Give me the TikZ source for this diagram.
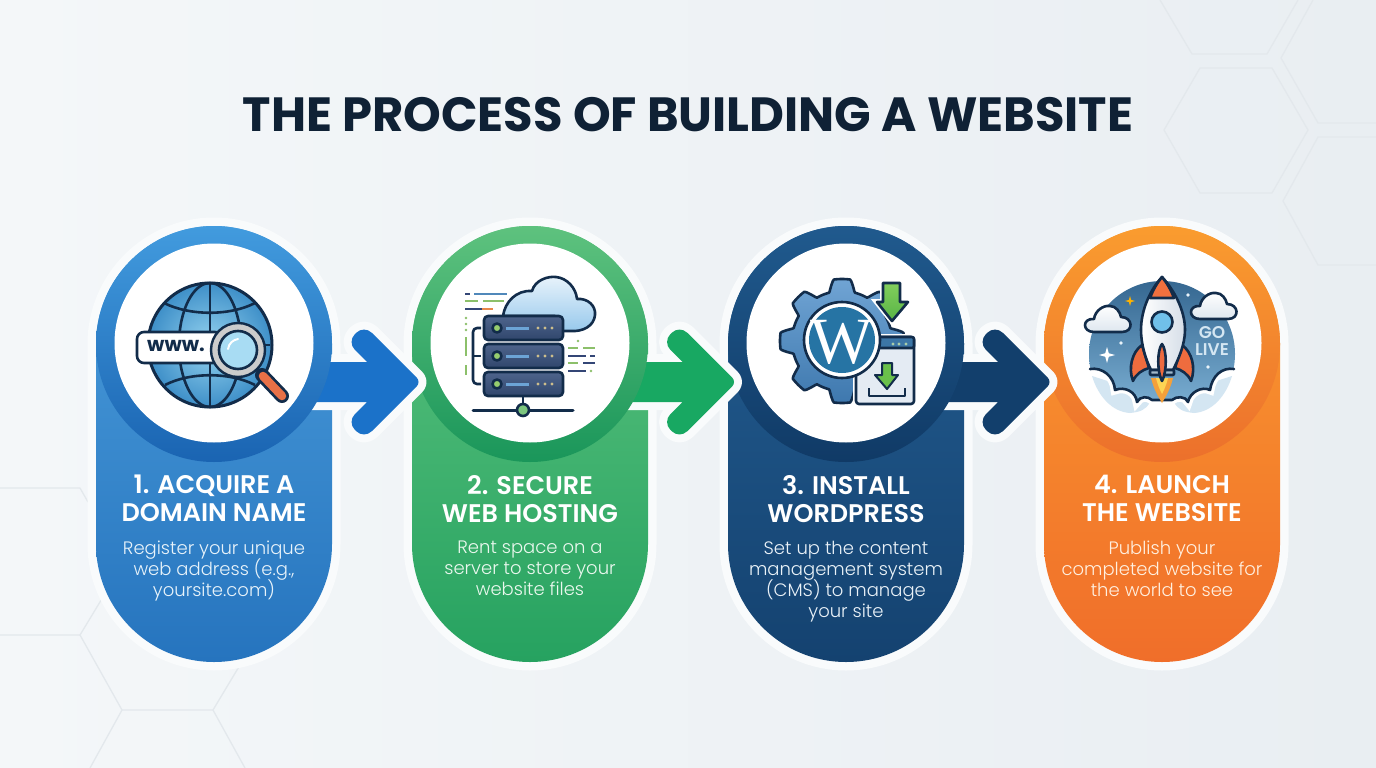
\documentclass[tikz,border=0pt]{standalone}
\usepackage{fontspec}
\setmainfont{Poppins}
\newfontfamily\headfont{Poppins SemiBold}
\newfontfamily\bodyfont{Poppins Light}
\newfontfamily\wpfont{Liberation Serif}
\usetikzlibrary{calc}
\usetikzlibrary{positioning,shapes.geometric}
\setlength{\normallineskiplimit}{-10pt}
\setlength{\lineskiplimit}{-10pt}
\definecolor{haloc}{RGB}{249,251,252}
\definecolor{inkc}{RGB}{18,44,74}
\definecolor{hexc}{RGB}{227,232,236}
\definecolor{titlec}{RGB}{15,33,53}
\definecolor{arrowa}{RGB}{27,114,201}
\definecolor{arrowb}{RGB}{24,168,98}
\definecolor{arrowc}{RGB}{18,63,108}
\definecolor{tinta}{RGB}{232,243,250}
\definecolor{tintb}{RGB}{234,248,238}
\definecolor{tintc}{RGB}{234,242,248}
\definecolor{tintd}{RGB}{255,240,224}
\definecolor{puffc}{RGB}{212,230,242}
\tikzset{
	capbody/.style={rectangle, minimum width=236pt, minimum height=436pt, rounded corners=118pt, inner sep=0pt, preaction={draw=haloc, line width=17pt}},
	ringnode/.style={circle, minimum size=236pt, inner sep=0pt},
	discnode/.style={circle, fill=white, minimum size=199pt, inner sep=0pt},
	headtext/.style={anchor=north, align=center, inner sep=0pt, text=white, font=\headfont\fontsize{25.5}{28}\selectfont},
	bodytext/.style={anchor=north, align=center, inner sep=0pt, font=\bodyfont\fontsize{18}{21}\selectfont},
	icon/.style={draw=inkc, line width=2.6pt, line join=round},
	codeline/.style={line width=2.6pt},
	hexline/.style={draw=hexc, line width=1.3pt},
	sparkle/.style={star, star points=4, star point ratio=3.2, inner sep=0pt}
}
\newcommand{\steparrow}[3]{%
	\path[preaction={draw=haloc, line width=16pt, line join=round}, fill=#3] (#1 |- #2) -- ++(0,-20) -- ($(#2)+(-54,-20)$) [rounded corners=11pt] -- ++(-20,-20) -- ++(17,-17) [rounded corners=6pt] -- (#2) [rounded corners=11pt] -- ++(-57,57) -- ++(-17,-17) [sharp corners] -- ($(#2)+(-54,20)$) -- ($(#1 |- #2)+(0,20)$) -- cycle;
}
\newcommand{\smallcloud}[2]{%
	\begin{scope}[shift={(#1,#2)}]
		\filldraw[icon, top color=white, bottom color={rgb,255:red,222;green,231;blue,239}] (-14,13) .. controls (-26,13) and (-26,-1) .. (-14,0) .. controls (-13,-8) and (-5,-14) .. (2,-13) .. controls (8,-13) and (12,-7) .. (13,-2) .. controls (25,-2) and (26,13) .. (14,13) -- cycle;
	\end{scope}
}
\begin{document}
\begin{tikzpicture}[x=1pt,y=-1pt]
	\useasboundingbox (0,0) rectangle (1376,768);
	\shade[left color={rgb,255:red,244;green,247;blue,249}, middle color={rgb,255:red,246;green,248;blue,250}, right color={rgb,255:red,233;green,238;blue,242}] (0,0) rectangle (1376,768);

	\draw[hexline] (1160,0) -- (1192,54) -- (1267,54) -- (1298,0);
	\draw[hexline] (1164,130) -- (1200,68) -- (1272,68) -- (1308,130) -- (1272,193) -- (1200,193) -- cycle;
	\draw[hexline] (1313,0) -- (1281,58) -- (1318,123) -- (1376,123);
	\draw[hexline] (1376,137) -- (1318,137) -- (1283,201) -- (1318,265) -- (1376,265);
	\draw[hexline] (0,488) -- (80,488) -- (88,502);
	\draw[hexline] (0,635) -- (80,635) -- (122,710) -- (213,710) -- (240,665);
	\draw[hexline] (80,635) -- (103,597);
	\draw[hexline] (122,710) -- (90,768);
	\draw[hexline] (213,710) -- (245,768);

	\node[align=center, inner sep=0pt, text=titlec, font=\bfseries\fontsize{48}{50}\selectfont] at (688,115) (title) {THE PROCESS OF BUILDING A WEBSITE};

	\coordinate (tip1) at (421,382);
	\coordinate (tip2) at (736.5,382);
	\coordinate (tip3) at (1052,382);

	\node[capbody, top color={rgb,255:red,250;green,155;blue,47}, bottom color={rgb,255:red,240;green,110;blue,42}] at (1162,444) (cap4) {};
	\node[ringnode, top color={rgb,255:red,250;green,156;blue,47}, bottom color={rgb,255:red,236;green,112;blue,44}] at (1162,344) (ring4) {};
	\node[discnode] at (1162,343) (disc4) {};

	\node[capbody, top color={rgb,255:red,36;green,94;blue,146}, bottom color={rgb,255:red,20;green,66;blue,112}] at (846,444) (cap3) {};
	\steparrow{cap3}{tip3}{arrowc}
	\node[ringnode, top color={rgb,255:red,32;green,90;blue,142}, bottom color={rgb,255:red,16;green,58;blue,102}] at (846,344) (ring3) {};
	\node[discnode] at (846,343) (disc3) {};

	\node[capbody, top color={rgb,255:red,94;green,196;blue,128}, bottom color={rgb,255:red,38;green,162;blue,96}] at (530,444) (cap2) {};
	\steparrow{cap2}{tip2}{arrowb}
	\node[ringnode, top color={rgb,255:red,94;green,194;blue,126}, bottom color={rgb,255:red,26;green,150;blue,90}] at (530,344) (ring2) {};
	\node[discnode] at (530,343) (disc2) {};

	\node[capbody, top color={rgb,255:red,76;green,158;blue,220}, bottom color={rgb,255:red,38;green,116;blue,190}] at (214,444) (cap1) {};
	\steparrow{cap1}{tip1}{arrowa}
	\node[ringnode, top color={rgb,255:red,66;green,155;blue,222}, bottom color={rgb,255:red,26;green,100;blue,178}] at (214,344) (ring1) {};
	\node[discnode] at (214,343) (disc1) {};

	\node[headtext] at (214,475) (head1) {1. ACQUIRE A\\DOMAIN NAME};
	\node[headtext] at (530,475) (head2) {2. SECURE\\WEB HOSTING};
	\node[headtext] at (846,475) (head3) {3. INSTALL\\WORDPRESS};
	\node[headtext] at (1162,475) (head4) {4. LAUNCH\\THE WEBSITE};

	\node[bodytext, text=tinta] at (214,541) (text1) {Register your unique\\web address (e.g.,\\yoursite.com)};
	\node[bodytext, text=tintb] at (530,541) (text2) {Rent space on a\\server to store your\\website files};
	\node[bodytext, text=tintc] at (846,541) (text3) {Set up the content\\management system\\(CMS) to manage\\your site};
	\node[bodytext, text=tintd] at (1162,541) (text4) {Publish your\\completed website for\\the world to see};

	\shade[inner color={rgb,255:red,150;green,212;blue,240}, outer color={rgb,255:red,62;green,143;blue,200}] (210,345) circle (62);
	\draw[icon, line width=3pt] (210,345) circle (62);
	\draw[icon] (210,345) ellipse (31 and 62);
	\draw[icon] (210,283) -- (210,407);
	\draw[icon] (150,345) -- (270,345);
	\draw[icon] (164,303) .. controls (190,316) and (230,316) .. (255,303);
	\draw[icon] (165,385) .. controls (190,372) and (230,372) .. (255,385);
	\draw[icon, fill=white, rounded corners=7pt] (137,332) rectangle (222,363);
	\node[inner sep=0pt, text=inkc, font=\bfseries\fontsize{20}{20}\selectfont] at (176,346) (www) {www.};
	\draw[line width=14pt, inkc, line cap=round] (262,375) -- (282,396);
	\draw[line width=8.5pt, color={rgb,255:red,232;green,112;blue,70}, line cap=round] (263,376) -- (282,396);
	\draw[icon, fill=black!20!white, line width=2.4pt] (238,350) circle (27);
	\draw[icon, fill={rgb,255:red,168;green,220;blue,243}, line width=2.6pt] (238,350) circle (19);
	\draw[white, line width=2pt, line cap=round] (228,349) .. controls (229,343) and (233,340) .. (238,339);

	\filldraw[icon, top color={rgb,255:red,232;green,243;blue,251}, bottom color={rgb,255:red,150;green,200;blue,236}] (503,316) .. controls (505,302) and (516,290) .. (532,291) .. controls (535,280) and (548,276) .. (556,277) .. controls (567,278) and (576,288) .. (577,299) .. controls (588,298) and (596,306) .. (595,315) .. controls (594,326) and (583,332) .. (570,331) -- (555,331) -- (555,316) -- cycle;
	\foreach \sy in {328,356,384} {
		\filldraw[icon, rounded corners=4pt, top color={rgb,255:red,78;green,100;blue,140}, bottom color={rgb,255:red,48;green,70;blue,108}] (484,\sy-12) rectangle (563,\sy+12);
		\filldraw[icon, fill={rgb,255:red,150;green,205;blue,110}] (497,\sy) circle (4.5);
		\draw[line width=3pt, color={rgb,255:red,108;green,164;blue,214}] (506,\sy) -- (529,\sy);
		\foreach \dx in {538,545,552} \fill[color={rgb,255:red,205;green,190;blue,140}] (\dx,\sy) circle (1.6);
	}
	\draw[icon, rounded corners=4pt] (481,328) -- (473,328) -- (473,384) -- (481,384);
	\draw[icon] (473,356) -- (481,356);
	\draw[icon] (523,396) -- (523,407);
	\draw[icon, line cap=round, line width=3pt] (473,410) -- (573,410);
	\filldraw[icon, fill={rgb,255:red,124;green,198;blue,126}] (523,410) circle (6);
	\begin{scope}[codeline, color={rgb,255:red,140;green,192;blue,106}]
		\draw (465,301) -- (478,301);
		\draw (483,301) -- (504,301);
		\draw (466,337) -- (466,356);
		\draw (466,365) -- (466,375);
		\draw (568,348) -- (578,348);
		\draw (583,348) -- (595,348);
		\draw (568,363) -- (578,363);
		\foreach \dy in {318,324,330} \fill (466,\dy) circle (1.4);
		\fill (578,341) circle (1.4);
		\fill (591,371) circle (1.4);
	\end{scope}
	\begin{scope}[codeline, color={rgb,255:red,52;green,70;blue,118}]
		\draw (465,294) -- (470,294);
		\draw (465,309) -- (482,309);
		\draw (568,356) -- (586,356);
		\draw (590,356) -- (595,356);
		\draw (583,363) -- (595,363);
		\draw (568,371) -- (586,371);
	\end{scope}
	\draw[codeline, color={rgb,255:red,80;green,136;blue,186}] (474,294) -- (507,294);
	\draw[codeline, color={rgb,255:red,232;green,136;blue,74}] (482,309) -- (493,309);

	\filldraw[icon, top color={rgb,255:red,112;green,164;blue,212}, bottom color={rgb,255:red,62;green,120;blue,174}] plot[samples=289, domain=0:360] ({842+(56+6*max(-1,min(1,2.2*cos(8*\x))))*cos(\x)},{341+(56+6*max(-1,min(1,2.2*cos(8*\x))))*sin(\x)}) -- cycle;
	\filldraw[icon, top color={rgb,255:red,130;green,206;blue,92}, bottom color={rgb,255:red,88;green,180;blue,70}, preaction={draw=white, line width=6pt}] (883,283) -- (900,283) -- (900,302) -- (908,302) -- (892,321) -- (877,302) -- (883,302) -- cycle;
	\filldraw[icon, rounded corners=3pt, fill={rgb,255:red,228;green,235;blue,243}, preaction={draw=white, line width=6pt}] (856,337) rectangle (914,404);
	\filldraw[icon, rounded corners=2pt, fill={rgb,255:red,60;green,118;blue,166}] (856,337) rectangle (914,348);
	\foreach \wx in {893,899,906} \fill[color={rgb,255:red,170;green,205;blue,170}] (\wx,344) circle (1.6);
	\filldraw[icon, line width=2pt, fill={rgb,255:red,106;green,192;blue,74}] (882,363) -- (892,363) -- (892,375) -- (898,375) -- (887,389) -- (875,375) -- (882,375) -- cycle;
	\draw[icon] (869,388) -- (869,396) -- (905,396) -- (905,388);
	\filldraw[icon, fill=white] (842,340) circle (38);
	\fill[color={rgb,255:red,38;green,116;blue,164}] (842,340) circle (33);
	\node[inner sep=0pt, text=white, font=\wpfont\fontsize{66}{66}\selectfont] at (842,342) (wplogo) {W};

	\fill[color=puffc] (1092,376) .. controls (1098,396) and (1112,412) .. (1130,413) .. controls (1140,412) and (1146,410) .. (1150,402) -- (1120,385) -- cycle;
	\fill[color=puffc] (1232,376) .. controls (1226,396) and (1212,412) .. (1194,413) .. controls (1184,412) and (1178,410) .. (1174,402) -- (1204,385) -- cycle;
	\def\cloudedge{(1090,369) .. controls (1102,367) and (1114,376) .. (1115,390) .. controls (1125,386) and (1136,392) .. (1137,402) .. controls (1140,396) and (1148,396) .. (1152,400) -- (1172,400) .. controls (1176,396) and (1186,396) .. (1188,402) .. controls (1190,392) and (1202,386) .. (1210,390) .. controls (1212,376) and (1222,367) .. (1234,369)}
	\draw[white, line width=9pt] \cloudedge;
	\begin{scope}
		\clip (1162,354) circle (73);
		\path[top color={rgb,255:red,50;green,100;blue,142}, bottom color={rgb,255:red,120;green,172;blue,208}] (1080,275) -- (1245,275) -- (1245,369) -- (1234,369) .. controls (1222,367) and (1212,376) .. (1210,390) .. controls (1202,386) and (1190,392) .. (1188,402) .. controls (1186,396) and (1176,396) .. (1172,400) -- (1152,400) .. controls (1148,396) and (1140,396) .. (1137,402) .. controls (1136,392) and (1125,386) .. (1115,390) .. controls (1114,376) and (1102,367) .. (1090,369) -- (1080,369) -- cycle;
	\end{scope}
	\draw[icon, line cap=round] \cloudedge;
	\node[inner sep=0pt, align=center, text=puffc, font=\headfont\fontsize{17}{17}\selectfont] at (1212,341) (golive) {GO\\LIVE};
	\node[sparkle, fill=white, minimum size=16pt] at (1107,355) (star1) {};
	\node[sparkle, fill=orange!60!yellow, minimum size=10pt] at (1130,301) (star2) {};
	\fill[tinta] (1121,343) circle (1.8);
	\fill[tinta] (1188,295) circle (1.8);
	\fill[tinta] (1208,367) circle (1.8);
	\smallcloud{1108}{319}
	\smallcloud{1214}{306}
	\fill[color={rgb,255:red,244;green,160;blue,58}] (1151,378) .. controls (1154,390) and (1158,396) .. (1162,403) .. controls (1166,396) and (1170,390) .. (1173,378) -- cycle;
	\fill[color={rgb,255:red,253;green,212;blue,84}] (1156,378) .. controls (1158,386) and (1160,390) .. (1162,394) .. controls (1164,390) and (1166,386) .. (1168,378) -- cycle;
	\filldraw[icon, fill={rgb,255:red,238;green,108;blue,62}] (1142,345) .. controls (1132,352) and (1128,368) .. (1133,381) .. controls (1136,374) and (1142,370) .. (1149,368) -- cycle;
	\filldraw[icon, fill={rgb,255:red,238;green,108;blue,62}] (1182,345) .. controls (1192,352) and (1196,368) .. (1191,381) .. controls (1188,374) and (1182,370) .. (1175,368) -- cycle;
	\filldraw[icon, left color=white, right color={rgb,255:red,214;green,222;blue,232}] (1162,277) .. controls (1150,290) and (1141,310) .. (1141,330) .. controls (1141,345) and (1146,360) .. (1151,370) -- (1173,370) .. controls (1178,360) and (1185,345) .. (1185,330) .. controls (1185,310) and (1174,290) .. (1162,277) -- cycle;
	\filldraw[icon, fill={rgb,255:red,240;green,112;blue,62}] (1162,277) .. controls (1157,283) and (1153,290) .. (1150,298) -- (1174,298) .. controls (1171,290) and (1167,283) .. (1162,277) -- cycle;
	\filldraw[icon, fill={rgb,255:red,112;green,192;blue,234}] (1162,322) circle (10.5);
	\filldraw[icon, rounded corners=1pt, fill={rgb,255:red,160;green,184;blue,202}] (1150,370) rectangle (1174,375);
	\filldraw[icon, fill={rgb,255:red,236;green,106;blue,62}] (1162,344) .. controls (1157,350) and (1157,372) .. (1162,381) .. controls (1167,372) and (1167,350) .. (1162,344) -- cycle;
\end{tikzpicture}
\end{document}
